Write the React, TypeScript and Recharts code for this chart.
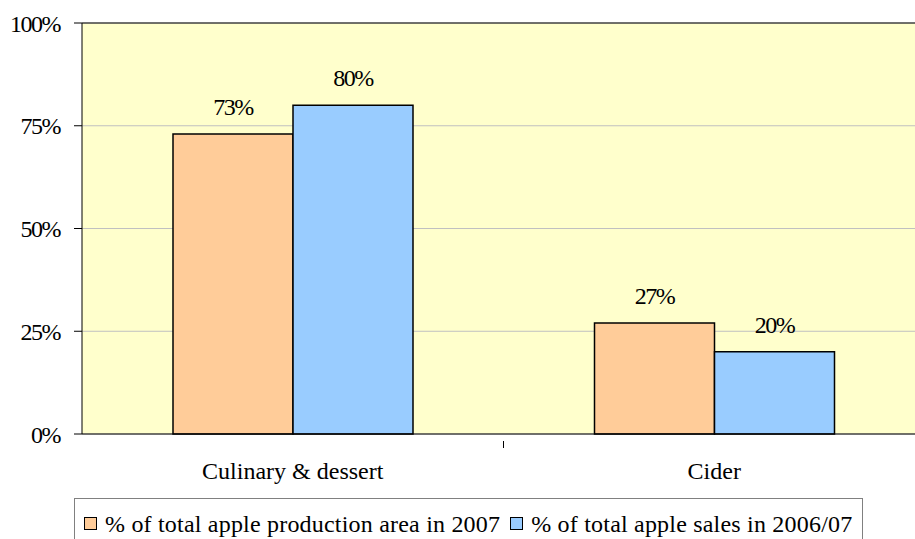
import React from 'react';
import { BarChart, Bar, XAxis, YAxis, CartesianGrid, LabelList, ReferenceLine } from 'recharts';

const categories = ['Culinary & dessert', 'Cider'];
const productionArea = [73, 27];
const sales = [80, 20];
const yTicks = [0, 25, 50, 75, 100];
const seriesNames = ['% of total apple production area in 2007', '% of total apple sales in 2006/07'];

const ORANGE = '#FFCC99';
const BLUE = '#99CCFF';
const FONT = '"Liberation Serif", serif';

const numStyle = { fontSize: 24, fontFamily: FONT, fill: '#000', letterSpacing: -1.5 };

const data = categories.map((name, i) => ({
    name,
    area: productionArea[i],
    sales: sales[i],
}));

// category label plus a divider tick at the right edge of each band (except the last)
const CategoryTick = (props: any) => {
    const { x, y, payload, index, visibleTicksCount } = props;
    const half = payload.offset ?? 0;
    return (
        <g>
            {index < visibleTicksCount - 1 && (
                <line x1={x + half} x2={x + half} y1={y - 1} y2={y + 6} stroke="#000" strokeWidth={1} />
            )}
            <text x={x} y={y + 37} textAnchor="middle" fontSize={24} fontFamily={FONT} fill="#000">
                {payload.value}
            </text>
        </g>
    );
};

const Swatch = ({ color }: { color: string }) => (
    <span
        style={{
            display: 'inline-block',
            width: 11,
            height: 11,
            background: color,
            border: '1.5px solid #000',
            marginRight: 8,
            marginBottom: 2,
            verticalAlign: 'baseline',
        }}
    />
);

export default function App() {
    return (
        <div style={{ position: 'absolute', left: 0, top: 0, width: 915, height: 539, overflow: 'hidden', background: '#fff' }}>
            <BarChart
                width={925}
                height={560}
                data={data}
                margin={{ top: 23, right: 0, bottom: 86, left: 0 }}
                barGap={0}
                barSize={120}
            >
                <CartesianGrid horizontal vertical={false} stroke="#C0C0C0" fill="#FFFFCC" fillOpacity={1} />
                <XAxis
                    dataKey="name"
                    height={40}
                    tickLine={false}
                    tick={<CategoryTick />}
                    axisLine={{ stroke: '#000', strokeWidth: 1 }}
                    interval={0}
                />
                <YAxis
                    domain={[0, 100]}
                    ticks={yTicks}
                    width={82}
                    tickFormatter={(v: number) => `${v}%`}
                    tickSize={8}
                    tickMargin={14}
                    tickLine={{ stroke: '#000' }}
                    axisLine={{ stroke: '#000' }}
                    tick={numStyle}
                />
                <ReferenceLine y={100} stroke="#000" strokeWidth={1} />
                <Bar dataKey="area" fill={ORANGE} stroke="#000" strokeWidth={1.5} isAnimationActive={false}>
                    <LabelList
                        dataKey="area"
                        position="top"
                        offset={19}
                        formatter={(v: any) => `${v}%`}
                        style={numStyle}
                    />
                </Bar>
                <Bar dataKey="sales" fill={BLUE} stroke="#000" strokeWidth={1.5} isAnimationActive={false}>
                    <LabelList
                        dataKey="sales"
                        position="top"
                        offset={19}
                        formatter={(v: any) => `${v}%`}
                        style={numStyle}
                    />
                </Bar>
            </BarChart>
            <div
                style={{
                    position: 'absolute',
                    left: 74,
                    top: 498,
                    width: 789,
                    height: 46,
                    boxSizing: 'border-box',
                    border: '1px solid #808080',
                    fontFamily: FONT,
                    fontSize: 24,
                    lineHeight: '27px',
                    letterSpacing: 0.2,
                    color: '#000',
                    whiteSpace: 'nowrap',
                    paddingLeft: 9,
                    paddingTop: 12,
                }}
            >
                <Swatch color={ORANGE} />
                {seriesNames[0]}
                <span style={{ display: 'inline-block', width: 10 }} />
                <Swatch color={BLUE} />
                {seriesNames[1]}
            </div>
        </div>
    );
}
